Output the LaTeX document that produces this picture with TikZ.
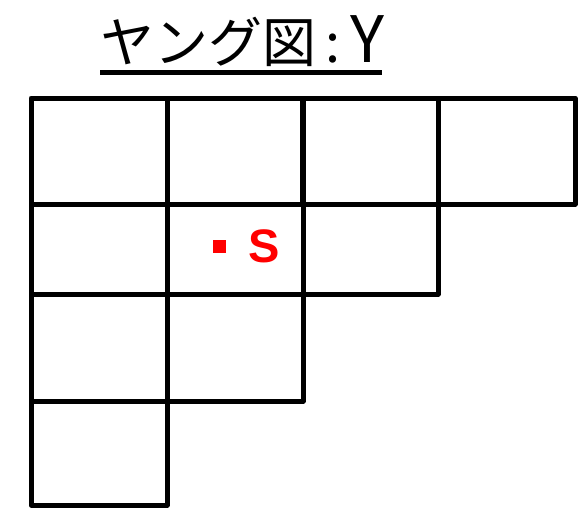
\documentclass[tikz,border=0pt]{standalone}
\usepackage{fontspec}
\setmainfont{Liberation Sans}
\newfontfamily\cjk{Noto Sans CJK JP}
\begin{document}
\begin{tikzpicture}[x=1pt,y=-1pt,
  cell/.style={draw=black,line width=5pt,line join=round,rectangle,inner sep=0pt,outer sep=0pt,minimum width=#1},
  cell/.default=136pt,
  r1/.style={minimum height=106pt},
  r2/.style={minimum height=90pt},
  r3/.style={minimum height=107pt},
  r4/.style={minimum height=104pt}]
\useasboundingbox (0,0) rectangle (579,507);
% row 1 (y 98-204)
\node[cell,r1] (c11) at (99,151) {};
\node[cell,r1] (c12) at (235,151) {};
\node[cell,r1] (c13) at (370.5,151) {};
\node[cell=137pt,r1] (c14) at (506.5,151) {};
% row 2 (y 204-294)
\node[cell,r2] (c21) at (99,249) {};
\node[cell,r2] (c22) at (235,249) {};
\node[cell=135pt,r2] (c23) at (370.5,249) {};
% row 3 (y 294-401)
\node[cell,r3] (c31) at (99,347.5) {};
\node[cell,r3] (c32) at (235,347.5) {};
% row 4 (y 401-505)
\node[cell,r4] (c41) at (99,453) {};
% marker and label
\node[fill=red,minimum size=13pt,inner sep=0pt] (dot) at (219.5,246.5) {};
\node[text=red,font=\fontsize{47}{47}\selectfont\bfseries,inner sep=0pt,anchor=base] (s) at (264,262) {S};
% title
\node[anchor=base west,inner sep=0pt,font=\cjk\fontsize{54}{60}\selectfont] (title) at (100,62) {ヤング図\hspace{9pt}:\hspace{10pt}{\fontsize{64}{64}\selectfont Y}};
\draw[line width=5pt] (title.south west |- 0,72) -- (382,72);
\end{tikzpicture}
\end{document}
